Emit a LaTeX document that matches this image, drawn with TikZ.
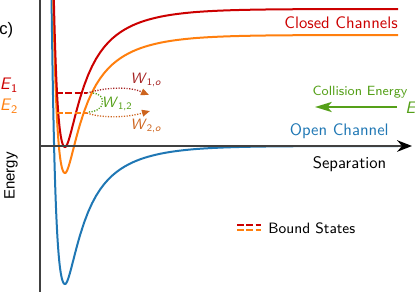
\documentclass[tikz,border=0pt]{standalone}
\usepackage{fontspec}
\newfontfamily\axisfont{Liberation Sans}
\usepackage{tikz}
\usetikzlibrary{arrows.meta,positioning}
\definecolor{openBlue}{RGB}{31,119,180}
\definecolor{closedRed}{RGB}{204,0,0}
\definecolor{closedOrange}{RGB}{255,127,14}
\definecolor{couplingGreen}{RGB}{85,160,25}
\definecolor{decayRed}{RGB}{165,35,35}
\definecolor{decayOrange}{RGB}{205,100,30}
\definecolor{axisGray}{RGB}{64,64,64}

\tikzset{
  curve/.style={line width=1.2pt},
  boundline/.style={line width=1.2pt, dash pattern=on 4pt off 1.6pt},
  decay/.style={line width=0.8pt, dash pattern=on 0.7pt off 0.9pt, -{Triangle[length=4.8pt,width=4pt,color=decayOrange]}},
  lbl/.style={font=\sffamily, inner sep=0pt},
}

\begin{document}
\begin{tikzpicture}[x=0.6pt, y=-0.6pt,
    declare function={sq(\u)=\u*\u;
      gfun(\s)=ifthenelse(\s<0, 0.058*\s+0.00005*\s*\s*\s, 0.026*\s+1.1*(1-exp(-\s/24)));
      pot(\s)=138*(sq(1-exp(-gfun(\s)))-1);}]
  \useasboundingbox (0,0) rectangle (415,292);

  % potential curves
  \begin{scope}
    \clip (40,0) rectangle (415,292);
    \foreach \ya/\col in {146/openBlue, 35/closedOrange, 9/closedRed}
      \draw[curve,\col] plot[domain=51:80,samples=90] (\x,{\ya-pot(\x-65)})
        -- plot[domain=80:398,samples=80] (\x,{\ya-pot(\x-65)});
  \end{scope}

  % axes
  \coordinate (ytop) at (40,0);
  \coordinate (ybot) at (40,292);
  \coordinate (origin) at (40,146);
  \coordinate (xend) at (412,146);
  \draw[axisGray, line width=1pt] (ytop) -- (ybot);
  \draw[axisGray, line width=1pt, -{Stealth[length=9pt,width=7pt,inset=3pt,color=black]}] (origin) -- (xend);

  % bound states
  \coordinate (b1left) at (56,93);
  \coordinate (b1right) at (87,93);
  \coordinate (b2left) at (56,113);
  \coordinate (b2right) at (87,113);
  \draw[boundline,closedRed] (b1left) -- (b1right);
  \draw[boundline,closedOrange] (b2left) -- (b2right);

  % couplings
  \coordinate (w1tip) at (149,95);
  \coordinate (w2tip) at (150,111);
  \coordinate (w12top) at (93,93);
  \coordinate (w12bot) at (88,112);
  \draw[decay,decayRed] (b1right) .. controls (108,86.7) and (130,86.7) .. (w1tip);
  \draw[decay,decayOrange] (b2right) .. controls (100,118) and (125,118) .. (w2tip);
  \draw[couplingGreen, line width=0.8pt, dash pattern=on 0.7pt off 0.9pt] (w12top) .. controls (107,94) and (106,112) .. (w12bot);
  \node[lbl,text=decayRed] (w1lbl) at (146,80) {\small\textit{W}\textsubscript{1,\textit{o}}};
  \node[lbl,text=couplingGreen] (w12lbl) at (117,104) {\small\textit{W}\textsubscript{1,2}};
  \node[lbl,text=decayOrange] (w2lbl) at (146,126) {\small\textit{W}\textsubscript{2,\textit{o}}};

  % energies
  \node[lbl,text=closedRed] (e1lbl) at (9,85) {\textit{E}\textsubscript{1}};
  \node[lbl,text=closedOrange] (e2lbl) at (9,106) {\textit{E}\textsubscript{2}};

  % collision energy
  \coordinate (cestart) at (397,107);
  \coordinate (ceend) at (315,107);
  \draw[couplingGreen, line width=1.5pt, -{Stealth[length=10pt,width=6pt,inset=2.5pt]}] (cestart) -- (ceend);
  \node[lbl,text=couplingGreen,anchor=west] (elbl) at (405,108) {\textit{E}};
  \node[lbl,text=couplingGreen] (celbl) at (360,92) {\footnotesize Collision Energy};

  % channel labels
  \node[lbl,text=closedRed,anchor=east] (closedlbl) at (398,23) {Closed Channels};
  \node[lbl,text=openBlue,anchor=east] (openlbl) at (389,131) {Open Channel};
  \node[lbl] (seplbl) at (349.5,164) {Separation};
  \node[font=\axisfont\fontsize{9}{10}\selectfont, rotate=90, inner sep=0pt] (energylbl) at (11,176) {Energy};
  \node[font=\axisfont, inner sep=0pt, anchor=west] (panellbl) at (-1,30) {c)};

  % legend
  \coordinate (leg1a) at (237,224.5);
  \coordinate (leg1b) at (261,224.5);
  \coordinate (leg2a) at (237,230);
  \coordinate (leg2b) at (261,230);
  \draw[boundline,closedRed] (leg1a) -- (leg1b);
  \draw[boundline,closedOrange] (leg2a) -- (leg2b);
  \node[lbl,anchor=west] (leglbl) at (268,228) {\small Bound States};
\end{tikzpicture}
\end{document}
